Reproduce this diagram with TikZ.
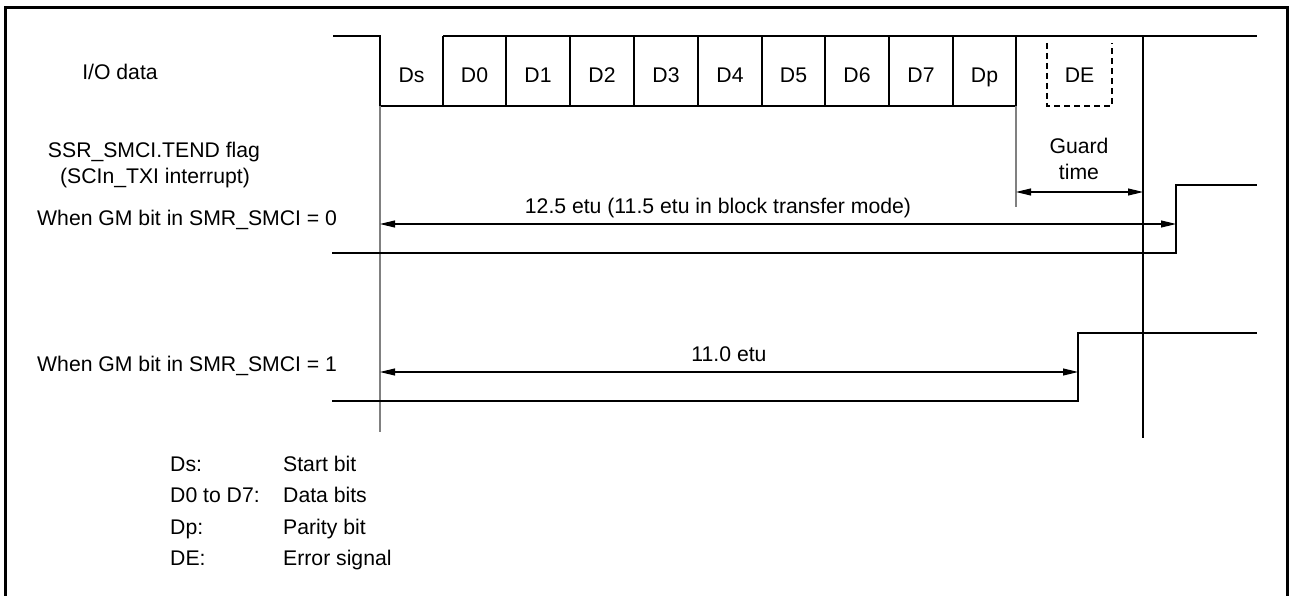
\documentclass[tikz,border=0pt]{standalone}
\usepackage{fontspec}
\setmainfont{Liberation Sans}
\usetikzlibrary{arrows.meta}
\begin{document}
\begin{tikzpicture}[x=1pt,y=-1pt,
  lbl/.style={inner sep=0pt,text height=15pt,text depth=0pt,font=\fontsize{21.2}{25}\selectfont},
  sig/.style={line width=2pt,line join=miter},
  divider/.style={line width=1.6pt},
  guide/.style={line width=1.5pt,draw=black!50},
  marker/.style={line width=1.3pt},
  dim/.style={line width=1.1pt,{Triangle[length=15pt,width=7pt]}-{Triangle[length=15pt,width=7pt]}},
  errbox/.style={line width=2pt,dash pattern=on 6pt off 4pt}]
\useasboundingbox (0,0) rectangle (1290,596);
\fill[white] (0,0) rectangle (1290,596);
% frame
\draw[line width=3pt] (5.5,596) -- (5.5,8) -- (1287,8) -- (1287,596);

% coordinates
\coordinate (gL) at (1016,106);
\coordinate (gLb) at (1016,207);
\coordinate (gv) at (1143,36);
\coordinate (gvb) at (1143,438);
\coordinate (lb) at (380,106);
\coordinate (lbb) at (380,432);
\coordinate (g1) at (1016,192);
\coordinate (g2) at (1143,192);
\coordinate (a1) at (380,224);
\coordinate (a2) at (1176,224);
\coordinate (b1) at (380,372);
\coordinate (b2) at (1078,372);

% I/O data waveform
\draw[sig] (333,36) -- (380,36) -- (380,106) -- (1016,106) -- (1016,36);
\draw[sig] (443,36) -- (1257,36);
\foreach \x in {443,506,570,634,698,762,825,889,953}
  \draw[divider] (\x,36) -- (\x,106);
\draw[errbox] (1047,43) -- (1047,106) -- (1112,106) -- (1112,43);

% bit labels
\node[lbl] (ds) at (411.5,75) {Ds};
\node[lbl] (d0) at (474.5,75) {D0};
\node[lbl] (d1) at (538,75) {D1};
\node[lbl] (d2) at (602,75) {D2};
\node[lbl] (d3) at (666,75) {D3};
\node[lbl] (d4) at (730,75) {D4};
\node[lbl] (d5) at (793.5,75) {D5};
\node[lbl] (d6) at (857,75) {D6};
\node[lbl] (d7) at (921,75) {D7};
\node[lbl] (dp) at (984.5,75) {Dp};
\node[lbl] (de) at (1079.5,75) {DE};

% guide lines
\draw[guide] (lb) -- (lbb);
\draw[guide] (gL) -- (gLb);
\draw[marker] (gv) -- (gvb);

% flag waveforms
\draw[sig] (332,253) -- (1176,253) -- (1176,185) -- (1257,185);
\draw[sig] (332,401) -- (1078,401) -- (1078,333) -- (1257,333);

% dimension arrows
\draw[dim] (g1) -- (g2);
\draw[dim] (a1) -- (a2);
\draw[dim] (b1) -- (b2);

% texts
\node[lbl] (guard) at (1079,146) {Guard};
\node[lbl] (time) at (1079,172) {time};
\node[lbl] (t125) at (718,206) {12.5 etu (11.5 etu in block transfer mode)};
\node[lbl] (t110) at (729,354) {11.0 etu};

\node[lbl] (io) at (120,72) {I/O data};
\node[lbl] (ssr) at (154,150) {SSR\_SMCI.TEND flag};
\node[lbl] (sci) at (155,176) {(SCIn\_TXI interrupt)};
\node[lbl,anchor=west] (gm0) at (37,218) {When GM bit in SMR\_SMCI = 0};
\node[lbl,anchor=west] (gm1) at (37,364) {When GM bit in SMR\_SMCI = 1};

% legend
\node[lbl,anchor=west] (k1) at (170,464) {Ds:};
\node[lbl,anchor=west] (k2) at (170,495) {D0 to D7:};
\node[lbl,anchor=west] (k3) at (170,527) {Dp:};
\node[lbl,anchor=west] (k4) at (170,558) {DE:};
\node[lbl,anchor=west] (v1) at (283,464) {Start bit};
\node[lbl,anchor=west] (v2) at (283,495) {Data bits};
\node[lbl,anchor=west] (v3) at (283,527) {Parity bit};
\node[lbl,anchor=west] (v4) at (283,558) {Error signal};
\end{tikzpicture}
\end{document}
